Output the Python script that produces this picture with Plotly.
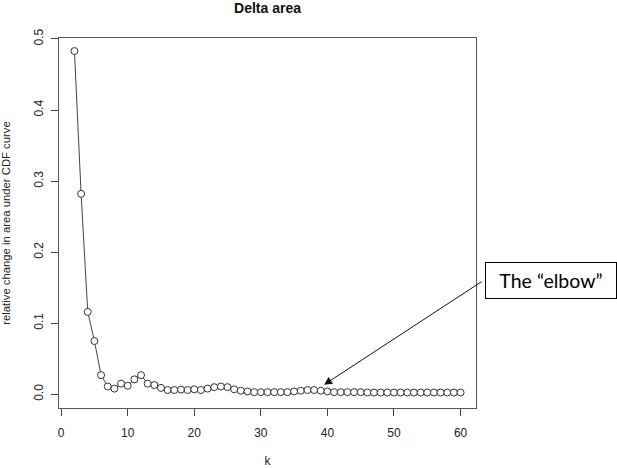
import plotly.graph_objects as go

k_values = list(range(2, 61))
delta_area = [
    0.483, 0.282, 0.116, 0.075, 0.027, 0.011, 0.008, 0.015, 0.012, 0.021,
    0.027, 0.015, 0.013, 0.009, 0.006, 0.006, 0.0066, 0.006, 0.007, 0.006,
    0.008, 0.010, 0.011, 0.010, 0.007, 0.005, 0.004, 0.003, 0.003, 0.003,
    0.003, 0.003, 0.003, 0.004, 0.005, 0.006, 0.006, 0.005, 0.004, 0.003,
    0.003, 0.003, 0.003, 0.003, 0.0025, 0.0025, 0.0025, 0.0025, 0.0025, 0.0025,
    0.0025, 0.0025, 0.0025, 0.0025, 0.0025, 0.0025, 0.0025, 0.0025, 0.0025,
]
x_ticks = [0, 10, 20, 30, 40, 50, 60]
y_ticks = [0.0, 0.1, 0.2, 0.3, 0.4, 0.5]
y_tick_labels = ["0.0", "0.1", "0.2", "0.3", "0.4", "0.5"]

W, H = 617, 468
L, R, T, B = 59, 141, 38, 60

fig = go.Figure()
fig.add_trace(go.Scatter(
    x=k_values, y=delta_area, mode="lines+markers",
    line=dict(color="#444444", width=1),
    marker=dict(symbol="circle", size=7, color="white",
                line=dict(color="#333333", width=1)),
    showlegend=False, hoverinfo="x+y",
))

font_main = "Liberation Sans, Arial, sans-serif"
fig.update_layout(
    width=W, height=H,
    margin=dict(l=L, r=R, t=T, b=B, pad=0, autoexpand=False),
    paper_bgcolor="white", plot_bgcolor="white",
    font=dict(family=font_main, size=12, color="#222222"),
    title=dict(text="<b>Delta area</b>", x=(L + (W - R)) / 2 / W, xanchor="center",
               y=1 - 8 / H, yanchor="middle",
               font=dict(family=font_main, size=14, color="#111111")),
    xaxis=dict(range=[-0.32, 62.32], tickvals=x_ticks, ticks="outside", ticklen=7,
               tickcolor="#444444", showgrid=False, zeroline=False, automargin=False,
               showline=True, linecolor="#555555", linewidth=1, mirror=True,
               tickfont=dict(size=12, color="#222222"), ticklabelstandoff=7,
               title=dict(text="k", font=dict(size=12, color="#222222"), standoff=27)),
    yaxis=dict(range=[-0.0193, 0.5014], tickvals=y_ticks, ticktext=y_tick_labels,
               ticks="outside", ticklen=7, tickcolor="#444444", tickangle=-90,
               showgrid=False, zeroline=False, automargin=False,
               showline=True, linecolor="#555555", linewidth=1, mirror=True,
               tickfont=dict(size=12, color="#222222"), ticklabelstandoff=3,
               title=dict(text="relative change in area under CDF curve",
                          font=dict(size=11.3, color="#222222"), standoff=22)),
)

# arrow pointing to the elbow
fig.add_annotation(
    x=39.5, y=0.0135, xref="x", yref="y", text="", showarrow=True,
    ax=159, ay=-104, axref="pixel", ayref="pixel",
    arrowhead=2, arrowsize=1.6, arrowwidth=1, arrowcolor="#111111",
)
# label box
fig.add_annotation(
    x=(551 - L) / (W - L - R), y=(H - B - 280.5) / (H - T - B),
    xref="paper", yref="paper", text="The \u201celbow\u201d", showarrow=False,
    font=dict(family="Lato, Noto Sans, sans-serif", size=19.5, color="#000000"),
    bordercolor="#000000", borderwidth=1, borderpad=2, bgcolor="white",
    width=126, height=31, xanchor="center", yanchor="middle",
)

fig.write_html("out.html", config={"displayModeBar": False},
               post_script="document.body.style.margin='0px';")
